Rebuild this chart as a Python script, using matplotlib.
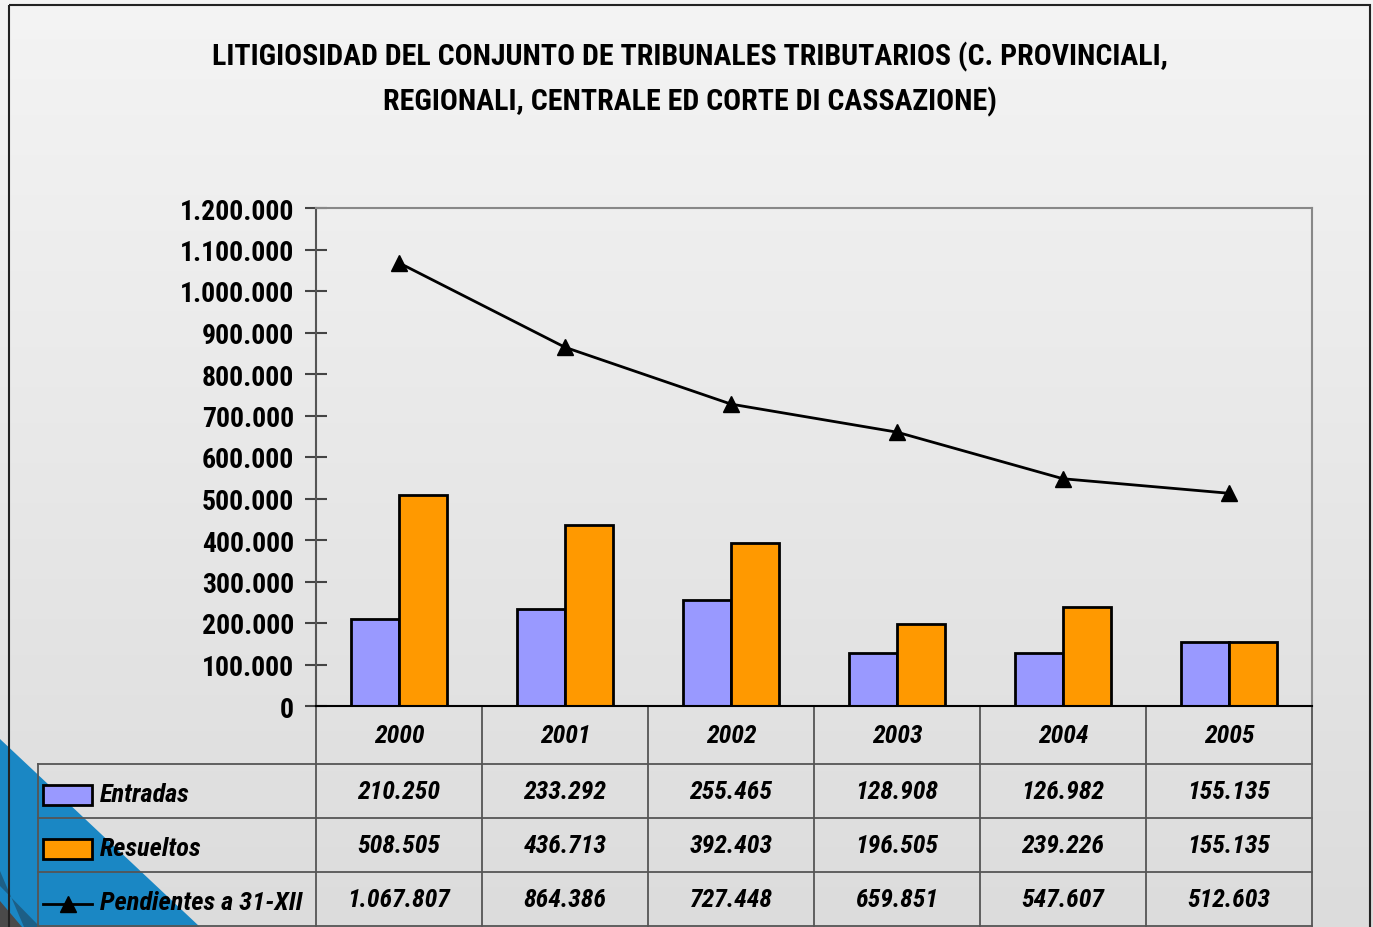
import numpy as np
import matplotlib
matplotlib.use("Agg")
import matplotlib.pyplot as plt
from matplotlib.patches import Polygon, Rectangle
import matplotlib.transforms as mtransforms

# data
years = ["2000", "2001", "2002", "2003", "2004", "2005"]
entradas = [210250, 233292, 255465, 128908, 126982, 155135]
resueltos = [508505, 436713, 392403, 196505, 239226, 155135]
pendientes = [1067807, 864386, 727448, 659851, 547607, 512603]
series_names = ["Entradas", "Resueltos", "Pendientes a 31-XII"]
title_lines = ["LITIGIOSIDAD DEL CONJUNTO DE TRIBUNALES TRIBUTARIOS (C. PROVINCIALI,",
               "REGIONALI, CENTRALE ED CORTE DI CASSAZIONE)"]

plt.rcParams["font.family"] = ["Roboto Condensed", "DejaVu Sans"]

W, H = 1373, 928
fig = plt.figure(figsize=(W / 100, H / 100), dpi=100)

def fmt(v):
    return f"{v:,}".replace(",", ".")

# background layer in pixel coordinates
bg = fig.add_axes([0, 0, 1, 1], zorder=0)
bg.set_xlim(0, W)
bg.set_ylim(H, 0)
bg.axis("off")
grad = np.linspace(0, 1, 256).reshape(-1, 1)
bg.imshow(grad, cmap=matplotlib.colors.LinearSegmentedColormap.from_list("g", ["#f4f4f4", "#dcdcdc"]),
          extent=[0, W, H, 0], aspect="auto")
bg.add_patch(Polygon([(0, 740), (200, 928), (0, 928)], closed=True, color="#1a87c4", lw=0))
bg.add_patch(Polygon([(0, 872), (0, 887), (40, 928), (24, 928)], closed=True, color="#1d5f86", lw=0))
bg.add_patch(Polygon([(0, 902), (0, 928), (22, 928)], closed=True, color="#4a4a4a", lw=0))
bg.add_patch(Rectangle((9, 6), 1361, 930, fill=False, ec="#222222", lw=1.5))

# main axes
ax = fig.add_axes([316 / W, 1 - 707 / H, (1312 - 316) / W, (707 - 209) / H], zorder=1)
ax.patch.set_alpha(0)
x = np.arange(len(years))
bw = 0.289
ax.bar(x - bw / 2, entradas, bw, color="#9999ff", edgecolor="black", lw=2, zorder=2)
ax.bar(x + bw / 2, resueltos, bw, color="#ff9900", edgecolor="black", lw=2, zorder=2)
ax.plot(x, pendientes, color="black", lw=2, marker="^", ms=12, zorder=3)

ax.set_xlim(-0.5, len(years) - 0.5)
ax.set_ylim(0, 1200000)
yt = np.arange(0, 1200001, 100000)
ax.set_yticks(yt)
ax.set_yticklabels([fmt(v) for v in yt], fontsize=20, fontweight="bold")
ax.tick_params(axis="y", direction="inout", length=16, width=1.5, color="#444444", pad=8)
ax.set_xticks([])
for s in ["top", "right"]:
    ax.spines[s].set_color("#888888")
    ax.spines[s].set_linewidth(1.5)
ax.spines["left"].set_color("#555555")
ax.spines["left"].set_linewidth(1.5)
ax.spines["bottom"].set_color("black")
ax.spines["bottom"].set_linewidth(1.5)

# data table below the plot (x in data units, y in axes fraction)
tr = mtransforms.blended_transform_factory(ax.transData, ax.transAxes)
ph = 707 - 209
def ay(py):
    return (707 - py) / ph
def dx(px):
    return -0.5 + (px - 316) / 166

lc = "#555555"
row_y = [765, 819, 873, 927]
x_left = dx(38)
for i in range(len(years) + 1):
    ax.plot([i - 0.5, i - 0.5], [0, ay(927)], color=lc, lw=1.3, transform=tr, clip_on=False)
ax.plot([x_left, x_left], [ay(765), ay(927)], color=lc, lw=1.3, transform=tr, clip_on=False)
for py in row_y:
    ax.plot([x_left, len(years) - 0.5], [ay(py), ay(py)], color=lc, lw=1.3, transform=tr, clip_on=False)

tkw = dict(transform=tr, fontsize=18.5, fontweight="bold", fontstyle="italic",
           ha="center", va="center", clip_on=False)
for i, yr in enumerate(years):
    ax.text(i, ay(736), yr, **tkw)
for r, vals in enumerate([entradas, resueltos, pendientes]):
    yc = ay(792 + 54 * r)
    for i, v in enumerate(vals):
        ax.text(i, yc, fmt(v), **tkw)
    ax.text(dx(100), ay(795 + 54 * r), series_names[r], transform=tr, fontsize=19,
            fontweight="bold", fontstyle="italic", ha="left", va="center", clip_on=False)

# legend keys
ax.add_patch(Rectangle((dx(43), ay(806)), dx(92) - dx(43), ay(786) - ay(806), transform=tr,
                       facecolor="#9999ff", edgecolor="black", lw=2, clip_on=False))
ax.add_patch(Rectangle((dx(43), ay(860)), dx(92) - dx(43), ay(840) - ay(860), transform=tr,
                       facecolor="#ff9900", edgecolor="black", lw=2, clip_on=False))
ax.plot([dx(43), dx(92)], [ay(905), ay(905)], color="black", lw=2, transform=tr, clip_on=False)
ax.plot([dx(67.5)], [ay(905)], color="black", marker="^", ms=12, transform=tr, clip_on=False)

# title
fig.text(690 / W, 1 - 57 / H, title_lines[0], ha="center", va="center", fontsize=21.5, fontweight="bold")
fig.text(690 / W, 1 - 102 / H, title_lines[1], ha="center", va="center", fontsize=21.5, fontweight="bold")

fig.savefig("out.png", dpi=100)
